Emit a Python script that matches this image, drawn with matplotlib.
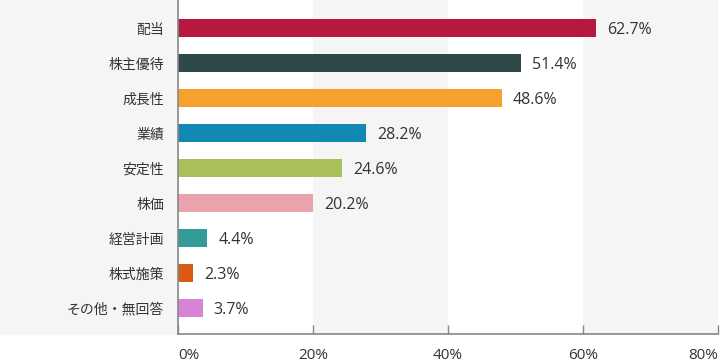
import matplotlib.pyplot as plt
import matplotlib.patches as mpatches
import numpy as np

plt.rcParams['font.family'] = ['Open Sans', 'Noto Sans CJK JP', 'DejaVu Sans']

categories = ['配当', '株主優待', '成長性', '業績', '安定性', '株価', '経営計画', '株式施策', 'その他・無回答']
values = [62.7, 51.4, 48.6, 28.2, 24.6, 20.2, 4.4, 2.3, 3.7]
colors = ['#b8183f', '#2f4848', '#f4a12e', '#1289b3', '#a8bf5a',
          '#e8a3ad', '#339c99', '#d95b16', '#d685d6']
tick_labels = ['0%', '20%', '40%', '60%', '80%']

x_max = 81
band = '#f5f5f5'
txt = '#333333'
axis_col = '#888888'

fig = plt.figure(figsize=(7.2, 3.62), dpi=100)
W, H = 720, 362
ax = fig.add_axes([178 / W, 28 / H, 540 / W, 334 / H])

# gray label area on the left, kept behind the axes
fig.patches.append(mpatches.Rectangle((0, 28 / H), 178 / W, 1 - 28 / H,
                                      transform=fig.transFigure, color=band, zorder=-1))

ticks = np.linspace(0, x_max, len(tick_labels))
for i in range(len(ticks) - 1):
    if i % 2 == 1:
        ax.axvspan(ticks[i], ticks[i + 1], color=band, lw=0, zorder=0)

y = np.arange(len(categories))
ax.barh(y, values, height=0.515, color=colors, zorder=2)
for yi, v in zip(y, values):
    ax.annotate(f'{v}%', (v, yi), xytext=(8, -1.2), textcoords='offset points',
                va='center', ha='left', fontsize=11.5, color=txt)

ax.set_xlim(0, x_max)
ax.set_ylim(8.74, -0.8)

ax.set_yticks(y)
ax.set_yticklabels(categories, fontsize=10, color=txt)
ax.tick_params(axis='y', length=0, pad=10)

ax.set_xticks(ticks)
ax.set_xticklabels(tick_labels, fontsize=11, color=txt)
ax.tick_params(axis='x', direction='in', length=6.5, width=1, color=axis_col, pad=10)
lbls = ax.get_xticklabels()
lbls[0].set_horizontalalignment('left')
lbls[-1].set_horizontalalignment('right')

for s in ['top', 'right']:
    ax.spines[s].set_visible(False)
for s in ['left', 'bottom']:
    ax.spines[s].set_color(axis_col)
    ax.spines[s].set_linewidth(1.2)
ax.set_facecolor('white')

fig.savefig('out.png', dpi=100)
